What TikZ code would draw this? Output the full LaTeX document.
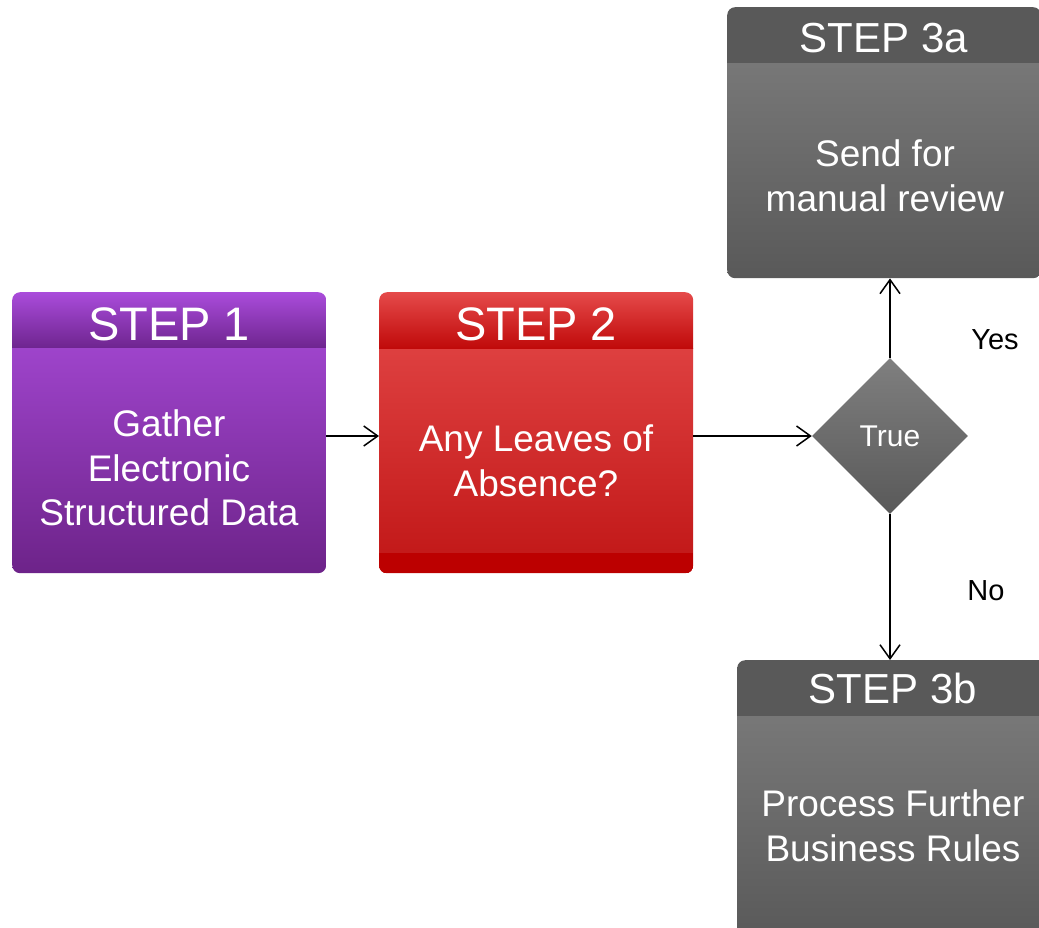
\documentclass[tikz,border=0pt]{standalone}
\usepackage{fontspec}
\setmainfont{Liberation Sans}
\usetikzlibrary{arrows.meta,shapes.geometric}

\definecolor{purpleTop}{HTML}{AA4CDB}
\definecolor{purpleHdrBot}{HTML}{6F2590}
\definecolor{purpleBot}{HTML}{6D2389}
\definecolor{redTop}{HTML}{E54A4A}
\definecolor{redHdrBot}{HTML}{C00A0A}
\definecolor{redBot}{HTML}{C01616}
\definecolor{redBand}{HTML}{BC0000}
\definecolor{grayTop}{HTML}{7F7F7F}
\definecolor{grayDark}{HTML}{595959}

\tikzset{
  % box with a header band: #1 header height, #2/#3 header colours, #4/#5 body colours
  stepbox/.style n args={5}{
    rectangle, rounded corners=8pt, inner sep=0pt, anchor=north west,
    minimum width=314pt, minimum height=281pt,
    path picture={
      \shade[sharp corners, top color=#4, bottom color=#5]
        ([yshift=-#1]path picture bounding box.north west)
        rectangle (path picture bounding box.south east);
      \shade[sharp corners, top color=#2, bottom color=#3]
        (path picture bounding box.north west)
        rectangle ([yshift=-#1]path picture bounding box.north east);
    }},
  headtext/.style={text=white, inner sep=0pt, anchor=base,
    font=\fontsize{47}{54}\selectfont},
  smallhead/.style={headtext, font=\fontsize{42}{48}\selectfont},
  bodytext/.style={text=white, inner sep=0pt, anchor=base,
    font=\fontsize{37}{44.5}\selectfont},
  labeltext/.style={text=black, inner sep=0pt, anchor=base,
    font=\fontsize{29}{34}\selectfont},
  decision/.style={diamond, aspect=1, inner sep=0pt,
    minimum width=156pt, minimum height=156pt,
    top color=grayTop, bottom color=grayDark, text=white,
    font=\fontsize{30}{34}\selectfont},
  conn/.style={draw=black, line width=1.5pt,
    -{Straight Barb[length=14pt, width=20pt, line width=1.5pt]}},
}

\newcommand{\lines}[1]{\begin{tabular}[t]{@{}c@{}}#1\end{tabular}}

\begin{document}
\begin{tikzpicture}[x=1pt, y=-1pt]
\useasboundingbox (0,0) rectangle (1039,927);
\fill[white] (0,0) rectangle (1039,927);

% process boxes
\node[stepbox={55pt}{purpleTop}{purpleHdrBot}{purpleTop}{purpleBot}] (s1) at (12,292) {};
\node[stepbox={56pt}{redTop}{redHdrBot}{redTop}{redBot}] (s2) at (379,292) {};
\begin{scope}
  \clip[rounded corners=8pt] (s2.north west) rectangle (s2.south east);
  \fill[redBand] ([yshift=20pt]s2.south west) rectangle (s2.south east);
\end{scope}
\node[stepbox={55pt}{grayDark}{grayDark}{grayTop}{grayDark}, minimum height=271pt] (s3a) at (727,7) {};
\node[stepbox={55pt}{grayDark}{grayDark}{grayTop}{grayDark}] (s3b) at (737,660) {};

% decision
\node[decision] (d) at (890,436) {True};

% box texts
\node[headtext] (s1h) at (169,340) {STEP 1};
\node[bodytext] (s1b) at (169,436.7) {\lines{Gather\\Electronic\\Structured Data}};
\node[headtext] (s2h) at (536,340) {STEP 2};
\node[bodytext] (s2b) at (536,451.7) {\lines{Any Leaves of\\Absence?}};
\node[smallhead] (s3ah) at (884,52) {STEP 3a};
\node[bodytext] (s3ab) at (885,166.7) {\lines{Send for\\manual review}};
\node[smallhead] (s3bh) at (893,703) {STEP 3b};
\node[bodytext] (s3bb) at (893,816.7) {\lines{Process Further\\Business Rules}};

% branch labels
\node[labeltext] (yes) at (995,349) {Yes};
\node[labeltext] (no) at (986,600) {No};

% connectors
\draw[conn] (s1.east |- d.west) -- (s2.west |- d.west);
\draw[conn] (s2.east |- d.west) -- (d.west);
\draw[conn] (d.north) -- (d.north |- s3a.south);
\draw[conn] (d.south) -- (d.south |- s3b.north);
\end{tikzpicture}
\end{document}
